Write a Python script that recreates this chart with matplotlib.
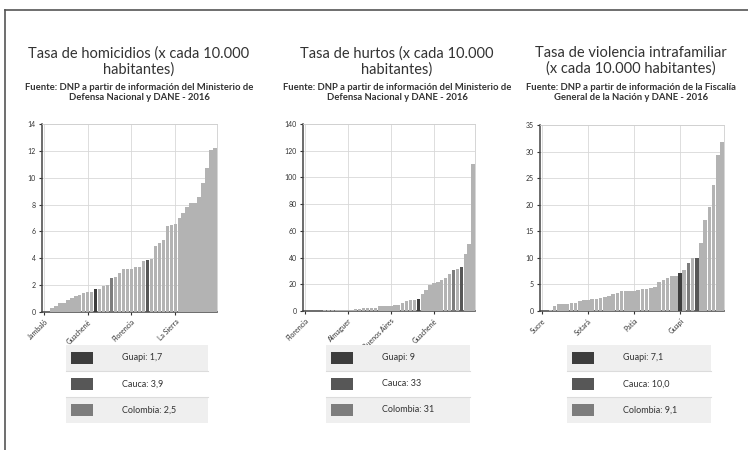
import numpy as np
import matplotlib.pyplot as plt
from matplotlib.patches import Rectangle

plt.rcParams['font.family'] = ['Lato', 'DejaVu Sans']

# municipios del Cauca (sin Guapi), ordenables por tasa
hom_others = [0.0, 0.0, 0.28, 0.45, 0.7, 0.7, 0.88, 1.05, 1.18, 1.28, 1.38, 1.48, 1.5,
              1.72, 1.93, 2.03, 2.6, 2.9, 3.2, 3.2, 3.22, 3.35, 3.35, 3.8, 3.98,
              4.93, 5.17, 5.37, 6.42, 6.49, 6.57, 6.99, 7.36, 7.8, 8.1, 8.15, 8.55,
              9.6, 10.7, 12.1, 12.2]
hurto_others = [0.1, 0.2, 0.2, 0.3, 0.3, 0.4, 0.7, 0.8, 0.9, 0.9, 1.0, 1.0, 1.1, 1.6,
                1.8, 2.0, 2.2, 2.4, 2.5, 3.6, 3.8, 4.0, 4.1, 4.3, 4.6, 6.2, 7.6, 8.0,
                8.3, 13, 16, 19.5, 21, 22, 23.5, 25, 28, 31.5, 43, 50, 110]
vif_others = [0.0, 0.05, 0.2, 0.9, 1.3, 1.4, 1.4, 1.45, 1.5, 1.9, 2.0, 2.1, 2.2, 2.25,
              2.4, 2.6, 2.9, 3.2, 3.4, 3.8, 3.8, 3.8, 3.8, 4.0, 4.1, 4.2, 4.4, 4.6,
              5.5, 5.8, 6.2, 6.5, 6.6, 7.7, 9.9, 12.8, 17.1, 19.6, 23.8, 29.4, 31.8]

ref_names = ['Guapi', 'Cauca', 'Colombia']
hom_ref = [1.7, 3.9, 2.5]
hurto_ref = [9, 33, 31]
vif_ref = [7.1, 10.0, 9.1]

hom_ticks = ['Jambaló', 'Guachené', 'Florencia', 'La Sierra']
hurto_ticks = ['Florencia', 'Almaguer', 'Buenos Aires', 'Guachené']
vif_ticks = ['Sucre', 'Sotará', 'Patía', 'Guapi']
tick_pos = [0, 11, 22, 33]

titles = ['Tasa de homicidios (x cada 10.000\nhabitantes)',
          'Tasa de hurtos (x cada 10.000\nhabitantes)',
          'Tasa de violencia intrafamiliar\n(x cada 10.000 habitantes)']
sources = ['Fuente: DNP a partir de información del Ministerio de\nDefensa Nacional y DANE - 2016',
           'Fuente: DNP a partir de información del Ministerio de\nDefensa Nacional y DANE - 2016',
           'Fuente: DNP a partir de información de la Fiscalía\nGeneral de la Nación y DANE - 2016']

ref_colors = {'Guapi': '#3d3d3d', 'Cauca': '#575757', 'Colombia': '#7d7d7d'}
bar_color = '#b3b3b3'

panels = [
    (hom_others, hom_ref, hom_ticks, 14, 2, 1),
    (hurto_others, hurto_ref, hurto_ticks, 140, 20, 0),
    (vif_others, vif_ref, vif_ticks, 35, 5, 1),
]
# posiciones en pixeles: ejes (izq, der, arriba, abajo), centro del titulo, tabla (x0, x1)
ax_px = [(42, 217, 124, 312), (303, 475, 124, 311), (540, 724, 125, 311)]
title_x = [139, 397, 631]
table_px = [(66, 208), (326, 470), (567, 711)]

W, H = 748, 450
fig = plt.figure(figsize=(W / 100, H / 100), dpi=100)

# marco
fig.add_artist(plt.Line2D([5 / W, 1], [1 - 10 / H, 1 - 10 / H], color='#555555', lw=1.2))
fig.add_artist(plt.Line2D([5 / W, 5 / W], [0, 1 - 10 / H], color='#555555', lw=1.2))

for k, (others, refs, ticks, ymax, ystep, dec) in enumerate(panels):
    l, r, t, b = ax_px[k]
    ax = fig.add_axes([l / W, 1 - b / H, (r - l) / W, (b - t) / H])

    names = [''] * len(others) + ref_names
    vals = np.array(others + refs, dtype=float)
    order = np.argsort(vals, kind='stable')
    vals = vals[order]
    cols = [ref_colors.get(names[i], bar_color) for i in order]

    x = np.arange(len(vals))
    ax.bar(x, vals, width=0.86, color=cols, zorder=3)
    ax.set_xlim(-0.5, len(vals) - 0.5)
    ax.set_ylim(0, ymax)
    ax.set_yticks(np.arange(0, ymax + 1, ystep))
    ax.set_xticks(tick_pos)
    ax.set_xticklabels(ticks, rotation=45, ha='right', rotation_mode='anchor')
    ax.tick_params(axis='both', labelsize=5, colors='#333333', length=2.5, width=0.8, pad=2)
    ax.grid(True, color='#d8d8d8', lw=0.6, zorder=0)
    for s in ['top', 'right']:
        ax.spines[s].set_color('#cfcfcf')
        ax.spines[s].set_linewidth(0.6)
    for s in ['left', 'bottom']:
        ax.spines[s].set_color('#444444')
        ax.spines[s].set_linewidth(1.1)

    fig.text(title_x[k] / W, 1 - 46 / H, titles[k], ha='center', va='top',
             fontsize=10.5, color='#333333', linespacing=1.15)
    fig.text(title_x[k] / W, 1 - 83 / H, sources[k], ha='center', va='top',
             fontsize=6.8, fontweight='bold', color='#333333', linespacing=1.15)

    # tabla de referencia
    x0, x1 = table_px[k]
    row_top = [345, 371, 397]
    for j, name in enumerate(ref_names):
        y0 = row_top[j]
        bg = '#efefef' if j != 1 else 'white'
        fig.add_artist(Rectangle((x0 / W, 1 - (y0 + 26) / H), (x1 - x0) / W, 26 / H,
                                 facecolor=bg, edgecolor='none'))
        if j > 0:
            fig.add_artist(plt.Line2D([x0 / W, x1 / W], [1 - y0 / H, 1 - y0 / H],
                                      color='#dcdcdc', lw=0.8))
        fig.add_artist(Rectangle(((x0 + 5) / W, 1 - (y0 + 19) / H), 22 / W, 12 / H,
                                 facecolor=ref_colors[name], edgecolor='none'))
        txt = f"{name}: {refs[j]:.{dec}f}".replace('.', ',')
        fig.text((x0 + 56) / W, 1 - (y0 + 13) / H, txt, ha='left', va='center',
                 fontsize=6.5, color='#333333')

fig.savefig('out.png', dpi=100)
